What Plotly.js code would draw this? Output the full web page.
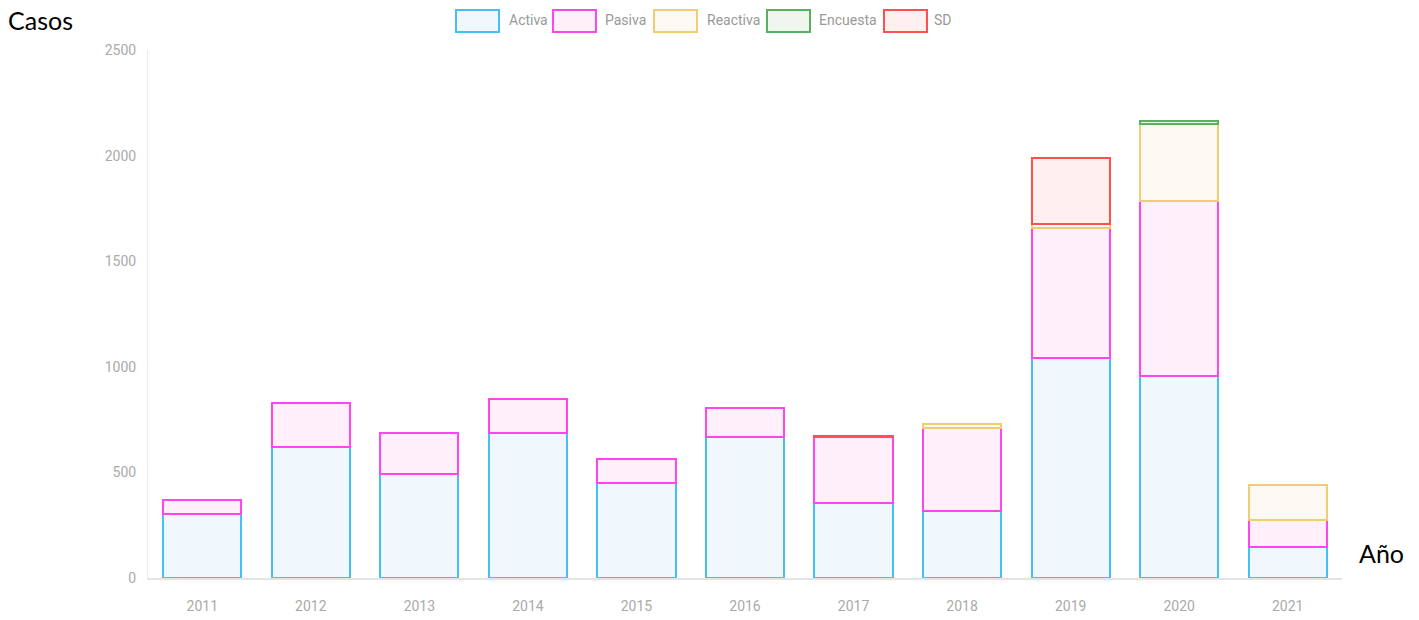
<!DOCTYPE html>
<html>
<head>
<meta charset="utf-8">
<script src="https://cdn.plot.ly/plotly-3.0.1.min.js"></script>
<style>html,body{margin:0;padding:0;background:#fff;}#chart{width:1419px;height:620px;}</style>
</head>
<body>
<div id="chart"></div>
<script>
const years = ['2011','2012','2013','2014','2015','2016','2017','2018','2019','2020','2021'];
const activa   = [303, 621, 492, 686, 448, 666, 353, 318, 1043, 956, 148];
const pasiva   = [66, 208, 194, 161, 114, 138, 313, 391, 614, 830, 127];
const reactiva = [0, 0, 0, 0, 0, 0, 0, 18, 21, 362, 165];
const encuesta = [0, 0, 0, 0, 0, 0, 0, 0, 0, 14, 0];
const sd       = [0, 0, 0, 0, 0, 0, 8, 0, 309, 0, 0];
const seriesNames = ['Activa', 'Pasiva', 'Reactiva', 'Encuesta', 'SD'];
const yTicks = [0, 500, 1000, 1500, 2000, 2500];

const lineColors = ['#45c0f6', '#ff45ee', '#f2cc70', '#58b060', '#ff5050'];
const fillColors = ['#f1f8fd', '#fff0fb', '#fcf9f2', '#eef6ee', '#fdf0ef'];
const seriesData = [activa, pasiva, reactiva, encuesta, sd];

const traces = seriesNames.map((n, i) => ({
  type: 'bar', name: n, x: years, y: seriesData[i].map(v => v === 0 ? null : v),
  marker: {color: fillColors[i], line: {color: lineColors[i], width: 2}},
  showlegend: false, hoverinfo: 'x+y+name'
}));

// custom legend (wide boxes like the reference)
const L = 148, R = 1342, T = 50, B = 578;
const px = v => (v - L) / (R - L);
const py = v => (B - v) / (B - T);
const legBoxes = [456, 553, 654, 767, 884];
const legText = [507, 603, 705, 817, 932];
const shapes = [], annotations = [];
const tickFont = 'Roboto, Liberation Sans, Arial';
seriesNames.forEach((n, i) => {
  shapes.push({type: 'rect', xref: 'paper', yref: 'paper',
    x0: px(legBoxes[i]), x1: px(legBoxes[i] + 43), y0: py(32), y1: py(10),
    fillcolor: fillColors[i], line: {color: lineColors[i], width: 2}});
  annotations.push({xref: 'paper', yref: 'paper', x: px(legText[i]), y: py(20),
    xanchor: 'left', yanchor: 'middle', text: n, showarrow: false,
    font: {family: tickFont, size: 14, color: '#999'}});
});
annotations.push({xref: 'paper', yref: 'paper', x: px(6), y: py(20), xanchor: 'left', yanchor: 'middle',
  text: 'Casos', showarrow: false, font: {family: 'Lato, Open Sans, sans-serif', size: 25, color: '#000'}});
annotations.push({xref: 'paper', yref: 'paper', x: px(1357), y: py(553), xanchor: 'left', yanchor: 'middle',
  text: 'Año', showarrow: false, font: {family: 'Lato, Open Sans, sans-serif', size: 25, color: '#000'}});

const layout = {
  width: 1419, height: 620,
  margin: {l: L, r: 1419 - R, t: T, b: 620 - B},
  paper_bgcolor: '#fff', plot_bgcolor: '#fff',
  barmode: 'stack', bargap: 0.28,
  font: {family: tickFont, size: 14, color: '#aaa'},
  xaxis: {type: 'category', showgrid: false, showline: true, linecolor: '#e4e4e4', linewidth: 2,
    ticks: '', tickfont: {size: 14, color: '#aaa'}, ticklabelstandoff: 14},
  yaxis: {range: [0, 2500], tickvals: yTicks, ticktext: yTicks.map(String), showgrid: false, zeroline: false,
    showline: true, linecolor: '#ececec', linewidth: 1, ticks: '', tickfont: {size: 14, color: '#aaa'},
    ticklabelstandoff: 8},
  shapes: shapes, annotations: annotations, showlegend: false
};

Plotly.newPlot('chart', traces, layout, {displayModeBar: false, staticPlot: true});
</script>
</body>
</html>
